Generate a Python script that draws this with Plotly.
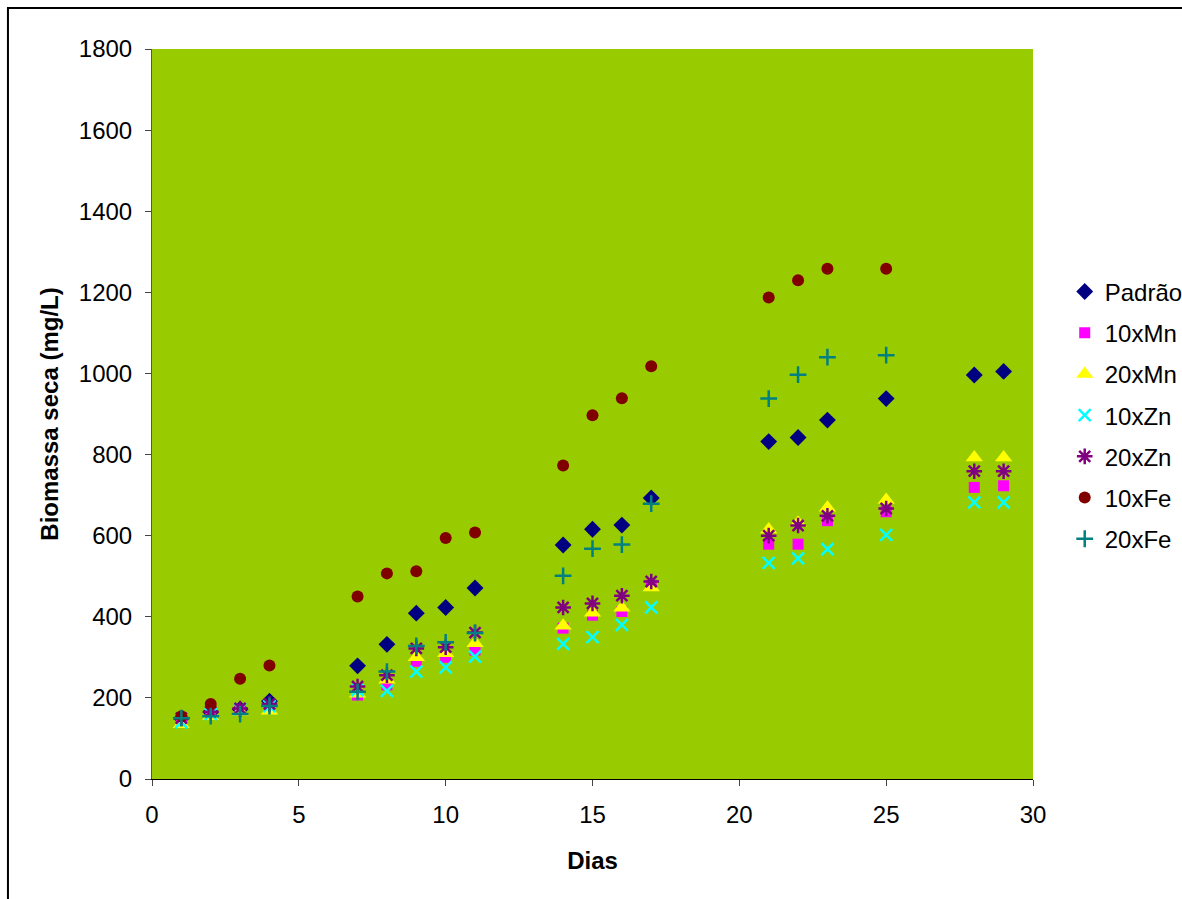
import plotly.graph_objects as go

days = [1, 2, 3, 4, 7, 8, 9, 10, 11, 14, 15, 16, 17, 21, 22, 23, 25, 28, 29]
days_fe = [1, 2, 3, 4, 7, 8, 9, 10, 11, 14, 15, 16, 17, 21, 22, 23, 25]

padrao = [150, 165, 172, 192, 279, 332, 409, 423, 471, 577, 616, 626, 693, 832, 842, 885, 938, 996, 1005]
mn10 = [145, 160, 170, 175, 207, 232, 290, 300, 318, 372, 404, 413, 478, 579, 579, 637, 659, 719, 723]
mn20 = [135, 155, 165, 168, 210, 245, 300, 310, 335, 378, 410, 422, 472, 615, 632, 669, 688, 793, 793]
zn10 = [140, 160, 172, 180, 219, 217, 265, 275, 302, 333, 350, 380, 423, 533, 544, 567, 602, 682, 682]
zn20 = [150, 166, 174, 185, 228, 256, 322, 325, 361, 423, 433, 452, 487, 600, 625, 649, 667, 759, 759]
fe10 = [155, 185, 247, 280, 450, 507, 512, 594, 608, 773, 897, 939, 1018, 1187, 1230, 1258, 1258]
fe20 = [150, 155, 160, 180, 215, 265, 328, 337, 360, 501, 568, 578, 679, 938, 997, 1040, 1045]

series = [
    ("Padrão", days, padrao, dict(symbol="diamond", color="#000080", size=13)),
    ("10xMn", days, mn10, dict(symbol="square", color="#FF00FF", size=11)),
    ("20xMn", days, mn20, dict(symbol="triangle-up", color="#FFFF00", size=15)),
    ("10xZn", days, zn10, dict(symbol="x-thin-open", color="#00FFFF", size=12, line=dict(width=2.5, color="#00FFFF"))),
    ("20xZn", days, zn20, dict(symbol="asterisk-open", color="#800080", size=13, line=dict(width=2.5, color="#800080"))),
    ("10xFe", days_fe, fe10, dict(symbol="circle", color="#800000", size=12)),
    ("20xFe", days_fe, fe20, dict(symbol="cross-thin-open", color="#008080", size=12, line=dict(width=2.5, color="#008080"))),
]

fig = go.Figure()
for i, (name, x, y, mk) in enumerate(series):
    fig.add_trace(go.Scatter(x=x, y=y, mode="markers", name=name, marker=mk,
                             legendgroup=f"g{i}"))

font = "Liberation Sans, Arial, sans-serif"
fig.update_layout(
    width=1182, height=899,
    margin=dict(l=152, r=149, t=49, b=120, autoexpand=False),
    paper_bgcolor="white",
    plot_bgcolor="#99CC00",
    font=dict(family=font, size=24, color="black"),
    showlegend=True,
    legend=dict(x=1.036, xanchor="left", y=0.698, yanchor="top",
                font=dict(size=24), tracegroupgap=7, traceorder="grouped",
                bgcolor="rgba(0,0,0,0)"),
    xaxis=dict(range=[0, 30], dtick=5, showgrid=False, zeroline=False,
               showline=True, linecolor="black", linewidth=1,
               ticks="outside", ticklen=6, tickcolor="#444",
               tickfont=dict(size=24), ticklabelstandoff=8,
               title=dict(text="<b>Dias</b>", font=dict(size=24), standoff=25)),
    yaxis=dict(range=[0, 1800], dtick=200, showgrid=False, zeroline=False,
               showline=True, linecolor="#555", linewidth=1,
               ticks="outside", ticklen=6, tickcolor="#444",
               tickfont=dict(size=24), ticklabelstandoff=8,
               title=dict(text="<b>Biomassa seca (mg/L)</b>", font=dict(size=24), standoff=13)),
    shapes=[dict(type="rect", xref="paper", yref="paper",
                 x0=-0.1635, x1=1.3, y0=-0.3, y1=1.0562,
                 line=dict(color="black", width=2), fillcolor="rgba(0,0,0,0)",
                 layer="below")],
)

fig.write_html("out.html")
